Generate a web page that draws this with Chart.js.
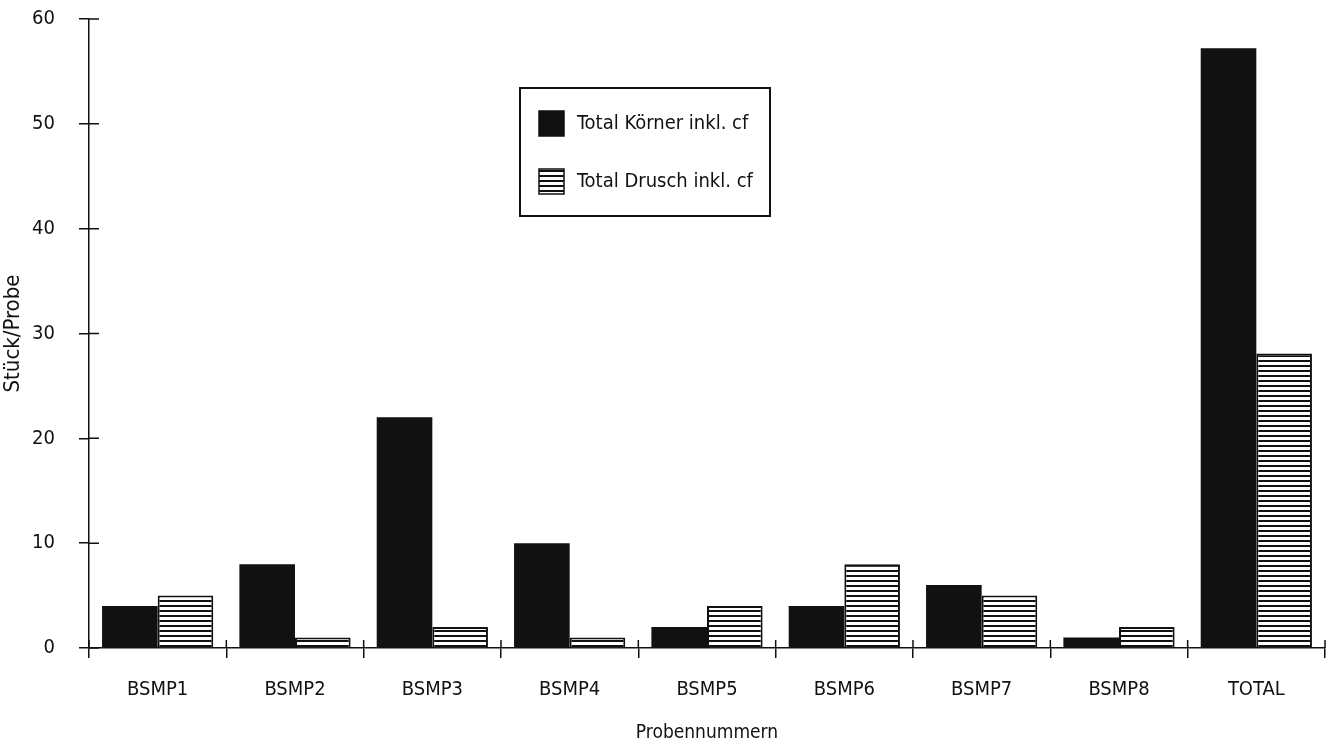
<!DOCTYPE html>
<html>
<head>
<meta charset="utf-8">
<script src="https://cdn.jsdelivr.net/npm/chart.js@4.4.1/dist/chart.umd.min.js"></script>
<style>
    html, body { margin: 0; padding: 0; background: #fff; }
    #wrap { width: 1337px; height: 744px; position: relative; }
</style>
</head>
<body>
<div id="wrap"><canvas id="probenChart" width="1337" height="744"></canvas></div>
<script>
/* ======================================
   DATA
====================================== */
const categories = ["BSMP1", "BSMP2", "BSMP3", "BSMP4", "BSMP5", "BSMP6", "BSMP7", "BSMP8", "TOTAL"];
const koernerValues = [4, 8, 22, 10, 2, 4, 6, 1, 57.2];
const druschValues = [5, 1, 2, 1, 4, 8, 5, 2, 28.1];
const seriesNames = ["Total Körner inkl. cf", "Total Drusch inkl. cf"];
const yMin = 0;
const yMax = 60;
const yStep = 10;

const FONT = "'Liberation Sans Narrow', 'Arial Narrow', 'DejaVu Sans Condensed', 'Liberation Sans', sans-serif";
const INK = "#111111";


/* ======================================
   HORIZONTAL HATCH PATTERN
====================================== */
function makeHatch() {
    const c = document.createElement("canvas");
    c.width = 8;
    c.height = 5;
    const g = c.getContext("2d");
    g.fillStyle = "#ffffff";
    g.fillRect(0, 0, 8, 5);
    g.fillStyle = INK;
    g.fillRect(0, 0, 8, 2);
    return g.createPattern(c, "repeat");
}
const hatch = makeHatch();


/* ======================================
   TICKS THAT CROSS THE AXES
====================================== */
const crossTicks = {
    id: "crossTicks",
    afterDraw(chart) {
        const ctx = chart.ctx;
        const xs = chart.scales.x;
        const ys = chart.scales.y;
        ctx.save();
        ctx.strokeStyle = INK;
        ctx.lineWidth = 1.5;
        ctx.beginPath();
        // y ticks, inside part
        ys.ticks.forEach((t, i) => {
            const y = ys.getPixelForTick(i);
            ctx.moveTo(ys.right, y);
            ctx.lineTo(ys.right + 10, y);
        });
        // x boundary ticks, inside part
        const step = xs.width / categories.length;
        for (let i = 0; i <= categories.length; i++) {
            const x = xs.left + i * step;
            ctx.moveTo(x, xs.top);
            ctx.lineTo(x, xs.top - 8);
        }
        ctx.stroke();
        ctx.restore();
    }
};


/* ======================================
   LEGEND BOX INSIDE THE PLOT
====================================== */
const boxLegend = {
    id: "boxLegend",
    afterDraw(chart) {
        const ctx = chart.ctx;
        const bx = 520, by = 88, bw = 250, bh = 128;
        ctx.save();
        ctx.fillStyle = "#ffffff";
        ctx.fillRect(bx, by, bw, bh);
        ctx.strokeStyle = INK;
        ctx.lineWidth = 2;
        ctx.strokeRect(bx, by, bw, bh);

        const rows = [123, 181];
        ctx.font = "20px " + FONT;
        ctx.textBaseline = "middle";
        chart.data.datasets.forEach((ds, i) => {
            const cy = rows[i];
            ctx.fillStyle = ds.backgroundColor;
            ctx.fillRect(539, cy - 12, 25, 25);
            ctx.strokeStyle = INK;
            ctx.lineWidth = 1.5;
            ctx.strokeRect(539, cy - 12, 25, 25);
            ctx.fillStyle = INK;
            ctx.fillText(ds.label, 577, cy + 1);
        });
        ctx.restore();
    }
};


/* ======================================
   CHART
====================================== */
const ctx = document.getElementById("probenChart").getContext("2d");

new Chart(ctx, {
    type: "bar",
    data: {
        labels: categories,
        datasets: [
            {
                label: seriesNames[0],
                data: koernerValues,
                backgroundColor: INK,
                borderColor: INK,
                borderWidth: 0,
                categoryPercentage: 0.81,
                barPercentage: 1.0
            },
            {
                label: seriesNames[1],
                data: druschValues,
                backgroundColor: hatch,
                borderColor: INK,
                borderWidth: 2,
                categoryPercentage: 0.81,
                barPercentage: 1.0
            }
        ]
    },
    options: {
        responsive: false,
        animation: false,
        devicePixelRatio: 1,
        layout: { padding: { left: 0, right: 12, top: 19, bottom: 0 } },
        plugins: {
            legend: { display: false },
            tooltip: { enabled: false }
        },
        scales: {
            x: {
                offset: true,
                grid: {
                    offset: true,
                    drawOnChartArea: false,
                    drawTicks: true,
                    tickLength: 10,
                    color: INK,
                    lineWidth: 1.5
                },
                border: { display: true, color: INK, width: 1.5 },
                ticks: {
                    color: INK,
                    padding: 20,
                    font: { family: FONT, size: 20 }
                },
                title: {
                    display: true,
                    text: "Probennummern",
                    color: INK,
                    padding: { top: 8, bottom: 0 },
                    font: { family: FONT, size: 19 }
                },
                afterFit(scale) {
                    scale.height = 96;
                    scale.paddingLeft = 0;
                    scale.paddingRight = 0;
                }
            },
            y: {
                min: yMin,
                max: yMax,
                grid: {
                    drawOnChartArea: false,
                    drawTicks: true,
                    tickLength: 10,
                    color: INK,
                    lineWidth: 1.5
                },
                border: { display: true, color: INK, width: 1.5 },
                ticks: {
                    stepSize: yStep,
                    color: INK,
                    padding: 24,
                    font: { family: FONT, size: 20 }
                },
                title: {
                    display: true,
                    text: "Stück/Probe",
                    color: INK,
                    padding: { top: 0, bottom: 2 },
                    font: { family: FONT, size: 22 }
                },
                afterFit(scale) {
                    scale.width = 89;
                    scale.paddingTop = 0;
                    scale.paddingBottom = 0;
                }
            }
        }
    },
    plugins: [crossTicks, boxLegend]
});
</script>
</body>
</html>
